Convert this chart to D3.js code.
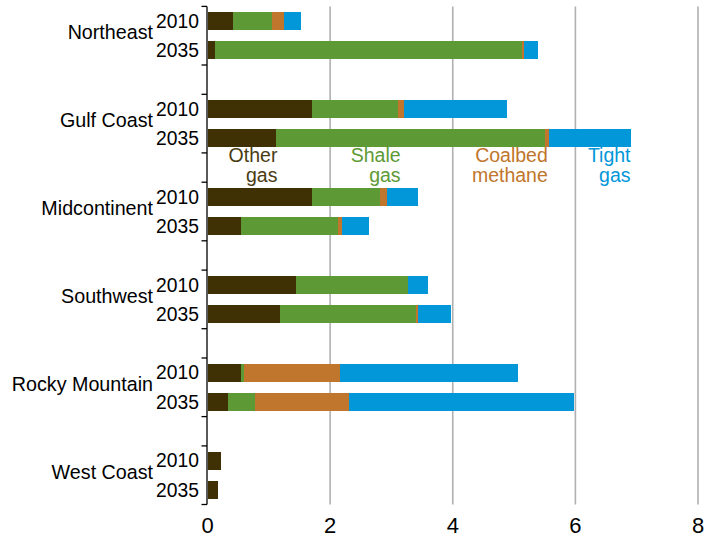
<!DOCTYPE html>
<html>
<head>
<meta charset="utf-8">
<script src="https://cdn.jsdelivr.net/npm/d3@7"></script>
<style>
  html, body { margin: 0; padding: 0; background: #fff; }
  svg { display: block; font-family: "Liberation Sans", Arial, sans-serif; }
</style>
</head>
<body>
<svg id="chart" width="716" height="537"></svg>
<script>
// ---- Data ----
const regions = ["Northeast", "Gulf Coast", "Midcontinent", "Southwest", "Rocky Mountain", "West Coast"];
const years = ["2010", "2035"];
// values in order: region x year (2010, 2035)
const otherGas   = [0.41, 0.13, 1.70, 1.11, 1.70, 0.54, 1.45, 1.18, 0.54, 0.33, 0.22, 0.17];
const shaleGas   = [0.65, 5.00, 1.40, 4.39, 1.11, 1.59, 1.82, 2.22, 0.05, 0.44, 0.00, 0.00];
const coalbed    = [0.18, 0.03, 0.10, 0.07, 0.11, 0.07, 0.00, 0.04, 1.57, 1.53, 0.00, 0.00];
const tightGas   = [0.29, 0.23, 1.68, 1.34, 0.52, 0.43, 0.32, 0.53, 2.90, 3.68, 0.00, 0.00];
const seriesNames = ["Other gas", "Shale gas", "Coalbed methane", "Tight gas"];
const seriesLines = [["Other", "gas"], ["Shale", "gas"], ["Coalbed", "methane"], ["Tight", "gas"]];
const seriesColors = ["#403105", "#5d9935", "#c0762c", "#0197d9"];
const labelColors = ["#4a3c12", "#5d9935", "#c0762c", "#0197d9"];
const labelAnchors = [1.14, 3.15, 5.55, 6.9];   // x value where each label's right edge sits
const xTicks = [0, 2, 4, 6, 8];

// ---- Build rows ----
const rows = [];
regions.forEach((r, i) => {
  years.forEach((yr, j) => {
    const k = i * 2 + j;
    rows.push({ key: r + "|" + yr, region: r, year: yr,
      "Other gas": otherGas[k], "Shale gas": shaleGas[k],
      "Coalbed methane": coalbed[k], "Tight gas": tightGas[k] });
  });
});
// slot keys with blank separators between regions
const slots = [];
regions.forEach((r, i) => {
  years.forEach(yr => slots.push(r + "|" + yr));
  if (i < regions.length - 1) slots.push("blank" + i);
});

const svg = d3.select("#chart");
const x = d3.scaleLinear().domain([0, 8]).range([207.5, 698]);
const y = d3.scaleBand().domain(slots).range([6.4, 504.5]).paddingInner(0.386).paddingOuter(0.193);

// gridlines
svg.append("g").selectAll("line")
  .data(xTicks.filter(d => d > 0))
  .join("line")
  .attr("x1", d => x(d)).attr("x2", d => x(d))
  .attr("y1", y.range()[0]).attr("y2", y.range()[1])
  .attr("stroke", "#b0b0b0").attr("stroke-width", 1.6);

// stacked bars
const stack = d3.stack().keys(seriesNames);
const stacked = stack(rows);
svg.append("g").selectAll("g")
  .data(stacked)
  .join("g")
  .attr("fill", (d, i) => seriesColors[i])
  .selectAll("rect")
  .data(d => d.filter(s => s[1] - s[0] > 0))
  .join("rect")
  .attr("x", d => x(d[0]))
  .attr("width", d => x(d[1]) - x(d[0]))
  .attr("y", d => y(d.data.key))
  .attr("height", y.bandwidth())
  .attr("shape-rendering", "crispEdges");

// y axis line + group ticks
const y0 = y.range()[0], step = y.step();
const axisG = svg.append("g");
axisG.append("line")
  .attr("x1", x(0) - 0.5).attr("x2", x(0) - 0.5)
  .attr("y1", y0).attr("y2", y.range()[1])
  .attr("stroke", "#000").attr("stroke-width", 1.3);
const boundaries = [];
slots.forEach((s, i) => {
  if (i === 0) boundaries.push(0);
  const next = slots[i + 1];
  const isYearPair = next && !s.startsWith("blank") && !next.startsWith("blank");
  if (!isYearPair) boundaries.push(i + 1);
});
axisG.selectAll("line.tick")
  .data(boundaries)
  .join("line")
  .attr("class", "tick")
  .attr("x1", x(0) - 6).attr("x2", x(0) - 0.5)
  .attr("y1", d => y0 + d * step).attr("y2", d => y0 + d * step)
  .attr("stroke", "#000").attr("stroke-width", 1.3);

// year labels
svg.append("g").selectAll("text")
  .data(rows)
  .join("text")
  .attr("x", 199)
  .attr("y", d => y(d.key) + y.bandwidth() / 2)
  .attr("dy", "0.35em")
  .attr("text-anchor", "end")
  .attr("font-size", 19.3)
  .attr("fill", "#000")
  .text(d => d.year);

// region labels
svg.append("g").selectAll("text")
  .data(regions)
  .join("text")
  .attr("x", 153)
  .attr("y", r => (y(r + "|2010") + y(r + "|2035") + y.bandwidth()) / 2 - 3.5)
  .attr("dy", "0.35em")
  .attr("text-anchor", "end")
  .attr("font-size", 19.7)
  .attr("fill", "#000")
  .text(r => r);

// x tick labels
svg.append("g").selectAll("text")
  .data(xTicks)
  .join("text")
  .attr("x", d => x(d))
  .attr("y", 525)
  .attr("dy", "0.35em")
  .attr("text-anchor", "middle")
  .attr("font-size", 22)
  .attr("fill", "#000")
  .text(d => d);

// series labels
const lab = svg.append("g").selectAll("text")
  .data(seriesNames)
  .join("text")
  .attr("text-anchor", "end")
  .attr("font-size", 19.5)
  .attr("fill", (d, i) => labelColors[i]);
lab.each(function (d, i) {
  const t = d3.select(this);
  seriesLines[i].forEach((ln, j) => {
    t.append("tspan").attr("x", x(labelAnchors[i])).attr("y", 162 + j * 20).text(ln);
  });
});
</script>
</body>
</html>
